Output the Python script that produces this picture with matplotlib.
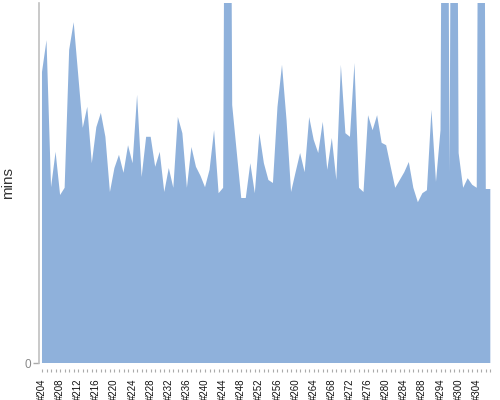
import matplotlib
matplotlib.use("Agg")
import matplotlib.pyplot as plt

plt.rcParams['font.family'] = ['Liberation Sans', 'DejaVu Sans']

# Build numbers (categories); a few numbers are missing in the sequence
builds = (list(range(204, 289)) + [289, 291, 292, 294, 295, 297, 298,
          300, 301, 302, 303, 304, 305, 306, 307])
labels = ['#%d' % b for b in builds]

# Duration in minutes per build (spikes exceed the axis)
mins = [48.5, 53.8, 29.3, 35.2, 28.0, 29.2, 52.2, 56.8, 48.0, 39.2,
        42.7, 33.3, 39.3, 41.7, 37.7, 28.5, 32.5, 34.7, 31.7, 36.3,
        33.3, 44.7, 31.0, 37.7, 37.7, 32.7, 35.2, 28.5, 32.5, 29.2,
        41.0, 38.3, 29.2, 36.0, 32.7, 31.2, 29.3, 32.2, 38.8, 28.3,
        29.2, 200.0, 43.0, 35.2, 27.5, 27.5, 33.3, 28.3, 38.3, 33.3,
        30.5, 30.0, 42.7, 49.7, 40.5, 28.5, 31.8, 35.0, 31.8, 41.0,
        37.2, 35.0, 40.2, 32.2, 37.5, 30.5, 49.7, 38.3, 37.7, 50.0,
        29.2, 28.5, 41.3, 38.8, 41.3, 36.7, 36.3, 32.7, 29.2, 30.5,
        31.8, 33.5, 29.2, 26.8, 28.3, 28.8, 42.2, 30.2, 38.8, 200.0,
        31.7, 200.0, 35.0, 29.2, 30.8, 29.7, 29.2, 200.0, 29.0, 29.0]

y_max = 60
label_every = 4

fig = plt.figure(figsize=(5, 4), dpi=100)
ax = fig.add_axes([0.078, 0.0925, 0.904, 0.9])

for s in ['top', 'right']:
    ax.spines[s].set_visible(False)
ax.spines['bottom'].set_position(('outward', 4))
ax.spines['bottom'].set_visible(False)
ax.spines['left'].set_color('#c0c0c0')
ax.spines['left'].set_linewidth(1.2)

x = list(range(len(mins)))
ax.fill_between(x, 0, mins, color='#8fb1db', linewidth=0)

ax.set_xlim(-0.66, len(mins) - 1 + 0.15)
ax.set_ylim(0, y_max)
ax.spines['left'].set_bounds(0, y_max)

# y axis
ax.set_yticks([0])
ax.set_yticklabels(['0'], color='#888888', fontsize=8.5)
ax.tick_params(axis='y', length=4, color='#aaaaaa', width=1, pad=2)
ax.set_ylabel('mins', fontsize=11, color='#333333')
ax.yaxis.set_label_coords(-0.052, 0.5)

# x axis
ax.set_xticks(x)
ax.set_xticklabels([l if i % label_every == 0 else '' for i, l in enumerate(labels)],
                   rotation=90, fontsize=7, color='#111111')
ax.tick_params(axis='x', length=2, color='#aaaaaa', width=0.8, pad=5)

fig.savefig('out.png', dpi=100)
